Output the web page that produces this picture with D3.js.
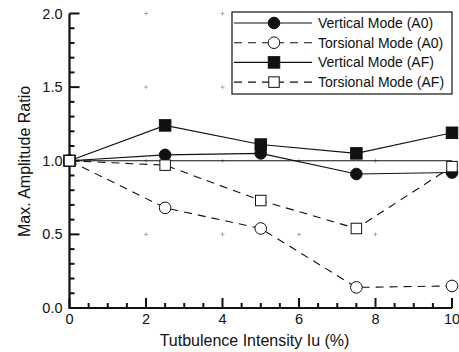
<!DOCTYPE html>
<head>
  <meta charset="utf-8">
  <title>Max amplitude ratio</title>
  <script src="https://d3js.org/d3.v7.min.js"></script>
  <style>
  body { margin: 0; background: #fff; }
  text { font-family: "Liberation Sans", Arial, sans-serif; fill: #111; }
  </style>
</head>
<body>
  <script>

    // Turbulence intensity (%)
    var intensity = [0, 2.5, 5, 7.5, 10];

    // Max. amplitude ratio for each mode
    var vertA0 = [1.0, 1.04, 1.05, 0.91, 0.92];
    var torsA0 = [1.0, 0.68, 0.54, 0.14, 0.15];
    var vertAF = [1.0, 1.24, 1.11, 1.05, 1.19];
    var torsAF = [1.0, 0.97, 0.73, 0.54, 0.96];

    var seriesNames = ["Vertical Mode (A0)", "Torsional Mode (A0)", "Vertical Mode (AF)", "Torsional Mode (AF)"];
    var xTicks = [0, 2, 4, 6, 8, 10];
    var yTicks = [0.0, 0.5, 1.0, 1.5, 2.0];

    var series = [
      {name: seriesNames[0], values: vertA0, marker: "circle", filled: true, dashed: false},
      {name: seriesNames[1], values: torsA0, marker: "circle", filled: false, dashed: true},
      {name: seriesNames[2], values: vertAF, marker: "square", filled: true, dashed: false},
      {name: seriesNames[3], values: torsAF, marker: "square", filled: false, dashed: true}
    ];

    var margin = {top: 13.5, right: 7, bottom: 44, left: 69.5},
      width = 459 - margin.left - margin.right,
      height = 352 - margin.top - margin.bottom;

    var x = d3.scaleLinear().domain([0, 10]).range([0, width]);
    var y = d3.scaleLinear().domain([0, 2]).range([height, 0]);

    var svg = d3.select("body").append("svg")
      .attr("width", 459)
      .attr("height", 352)
      .append("g")
      .attr("transform", "translate(" + margin.left + "," + margin.top + ")");

    // Faint plus marks at major grid crossings
    xTicks.slice(1, -1).forEach(function(tx) {
      yTicks.slice(1).forEach(function(ty) {
        svg.append("path")
          .attr("d", "M" + (x(tx) - 2) + "," + y(ty) + "h4M" + x(tx) + "," + (y(ty) - 2) + "v4")
          .attr("stroke", "#999")
          .attr("stroke-width", 0.8);
      });
    });

    // Reference line at ratio 1.0
    svg.append("line")
      .attr("x1", x(0)).attr("x2", x(10))
      .attr("y1", y(1)).attr("y2", y(1))
      .attr("stroke", "#111")
      .attr("stroke-width", 1);

    // Axes: inward minor and major ticks
    var xMinor = d3.range(0, 10.01, 0.5);
    var yMinor = d3.range(0, 2.001, 0.1);

    svg.selectAll(".xt")
      .data(xMinor)
      .enter().append("line")
      .attr("class", "xt")
      .attr("x1", function(d) { return x(d); })
      .attr("x2", function(d) { return x(d); })
      .attr("y1", height)
      .attr("y2", function(d) { return height - (d % 2 === 0 ? 10 : 5); })
      .attr("stroke", "#111")
      .attr("stroke-width", 2);

    svg.selectAll(".yt")
      .data(yMinor)
      .enter().append("line")
      .attr("class", "yt")
      .attr("x1", 0)
      .attr("x2", function(d) { return Math.abs(d * 2 - Math.round(d * 2)) < 1e-6 ? 10 : 5; })
      .attr("y1", function(d) { return y(d); })
      .attr("y2", function(d) { return y(d); })
      .attr("stroke", "#111")
      .attr("stroke-width", 2);

    svg.append("path")
      .attr("fill", "none")
      .attr("stroke", "#111")
      .attr("stroke-width", 2.2)
      .attr("d", "M" + x(0) + "," + y(2) + "V" + y(0) + "H" + x(10));

    svg.selectAll(".xl")
      .data(xTicks)
      .enter().append("text")
      .attr("class", "xl")
      .attr("x", function(d) { return x(d); })
      .attr("y", height + 16)
      .attr("text-anchor", "middle")
      .attr("font-size", 14.5)
      .text(function(d) { return d3.format("d")(d); });

    svg.selectAll(".yl")
      .data(yTicks)
      .enter().append("text")
      .attr("class", "yl")
      .attr("x", -7)
      .attr("y", function(d) { return y(d) + 5; })
      .attr("text-anchor", "end")
      .attr("font-size", 14.5)
      .text(function(d) { return d3.format(".1f")(d); });

    // Axis titles
    svg.append("text")
      .attr("x", 254.5 - margin.left)
      .attr("y", 346 - margin.top)
      .attr("text-anchor", "middle")
      .attr("font-size", 16)
      .text("Tutbulence Intensity Iu (%)");

    svg.append("text")
      .attr("transform", "rotate(-90)")
      .attr("x", -(161.5 - margin.top))
      .attr("y", 30 - margin.left)
      .attr("text-anchor", "middle")
      .attr("font-size", 16)
      .text("Max. Amplitude Ratio");

    var line = d3.line()
      .x(function(d, i) { return x(intensity[i]); })
      .y(function(d) { return y(d); });

    function drawMarker(g, s, cx, cy) {
      if (s.marker === "circle") {
        g.append("circle")
          .attr("cx", cx).attr("cy", cy).attr("r", 5.8)
          .attr("fill", s.filled ? "#111" : "#fff")
          .attr("stroke", "#111").attr("stroke-width", 1);
      } else {
        var sz = s.filled ? 11.5 : 10.5;
        g.append("rect")
          .attr("x", cx - sz / 2).attr("y", cy - sz / 2)
          .attr("width", sz).attr("height", sz)
          .attr("fill", s.filled ? "#111" : "#fff")
          .attr("stroke", "#111").attr("stroke-width", 1);
      }
    }

    series.forEach(function(s) {
      svg.append("path")
        .datum(s.values)
        .attr("fill", "none")
        .attr("stroke", "#111")
        .attr("stroke-width", 1.1)
        .attr("stroke-dasharray", s.dashed ? "8,6" : null)
        .attr("d", line);
    });

    series.forEach(function(s) {
      var g = svg.append("g");
      s.values.forEach(function(v, i) {
        drawMarker(g, s, x(intensity[i]), y(v));
      });
    });

    // Legend
    var legend = svg.append("g").attr("transform", "translate(" + (232 - margin.left) + "," + (12 - margin.top) + ")");
    legend.append("rect")
      .attr("width", 220).attr("height", 82)
      .attr("fill", "#fff").attr("stroke", "#111").attr("stroke-width", 1.2);

    series.forEach(function(s, i) {
      var ly = 11 + i * 19.7;
      legend.append("line")
        .attr("x1", 2).attr("x2", 80)
        .attr("y1", ly).attr("y2", ly)
        .attr("stroke", "#111").attr("stroke-width", 1.1)
        .attr("stroke-dasharray", s.dashed ? "8,6" : null);
      drawMarker(legend, s, 42, ly);
      legend.append("text")
        .attr("x", 86).attr("y", ly + 5)
        .attr("font-size", 14)
        .text(s.name);
    });

  </script>
</body>
</html>
